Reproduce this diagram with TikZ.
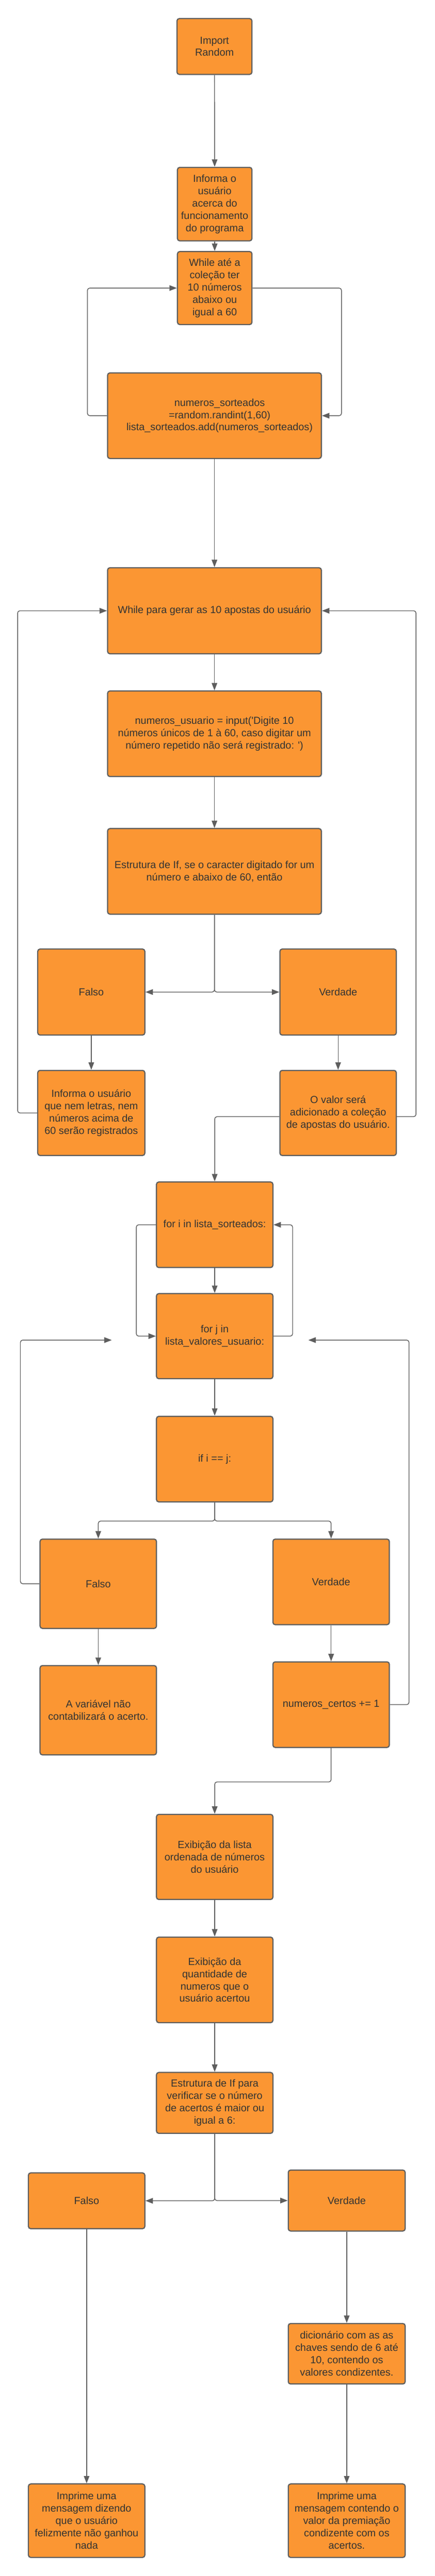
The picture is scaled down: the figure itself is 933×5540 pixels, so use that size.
\documentclass[tikz,border=0pt]{standalone}
\usepackage{fontspec}
\setmainfont{Liberation Sans}
\usetikzlibrary{arrows.meta}
\definecolor{boxfill}{HTML}{FB9633}
\definecolor{boxline}{HTML}{5E5E5E}
\definecolor{linec}{HTML}{5E5E5E}
\definecolor{txt}{HTML}{333333}
\tikzset{
  flowbox/.style={rectangle, rounded corners=5pt, draw=boxline, line width=2.5pt,
    fill=boxfill, text=txt, align=center, inner sep=0pt,
    font=\fontsize{22}{26.5}\selectfont},
  conn/.style={draw=linec, line width=1.6pt, rounded corners=5pt,
    -{Triangle[length=16pt,width=12pt]}},
}
\newcommand{\bx}[6]{%
  \pgfmathsetmacro{\bw}{#4-#2}\pgfmathsetmacro{\bh}{#5-#3}%
  \pgfmathsetmacro{\cx}{(#2+#4)/2}\pgfmathsetmacro{\cy}{(#3+#5)/2}%
  \node[flowbox, minimum width=\bw pt, minimum height=\bh pt] (#1) at (\cx,\cy) {#6};}
\begin{document}
\begin{tikzpicture}[x=1pt,y=-1pt]
\useasboundingbox (0,0) rectangle (933,5540);
\bx{imp}{380}{40}{541}{160}{Import\\Random}
\bx{inf}{381}{360}{541}{518}{Informa o\\usuário\\acerca do\\funcionamento\\do programa}
\bx{whl}{381}{541}{541}{698}{While até a\\coleção ter\\10 números\\abaixo ou\\igual a 60}
\bx{sor}{231}{802}{690}{986}{\hspace*{22pt}numeros\_sorteados\\\hspace*{22pt}=random.randint(1,60)\\\hspace*{22pt}lista\_sorteados.add(numeros\_sorteados)}
\bx{wpa}{231}{1221}{690}{1406}{While para gerar as 10 apostas do usuário}
\bx{usu}{231}{1486}{690}{1670}{numeros\_usuario = input(\textquotesingle Digite 10\\números únicos de 1 à 60, caso digitar um\\número repetido não será registrado: \textquotesingle)}
\bx{est}{231}{1782}{690}{1966}{Estrutura de If, se o caracter digitado for um\\número e abaixo de 60, então}
\bx{fal1}{81}{2041}{311}{2226}{Falso}
\bx{ver1}{601}{2041}{851}{2226}{Verdade}
\bx{inf2}{81}{2302}{311}{2485}{Informa o usuário\\que nem letras, nem\\números acima de\\60 serão registrados}
\bx{val}{601}{2302}{851}{2485}{O valor será\\adicionado a coleção\\de apostas do usuário.}
\bx{fori}{336}{2542}{586}{2726}{for i in lista\_sorteados:}
\bx{forj}{336}{2782}{586}{2965}{for j in\\lista\_valores\_usuario:}
\bx{ifij}{336}{3046}{586}{3230}{if i == j:}
\bx{fal2}{86}{3310}{336}{3502}{Falso}
\bx{ver2}{586}{3310}{836}{3494}{Verdade}
\bx{var}{86}{3582}{336}{3774}{A variável não\\contabilizará o acerto.}
\bx{cer}{586}{3574}{836}{3758}{numeros\_certos += 1}
\bx{exl}{336}{3902}{586}{4085}{Exibição da lista\\ordenada de números\\do usuário}
\bx{exq}{336}{4166}{586}{4350}{Exibição da\\quantidade de\\numeros que o\\usuário acertou}
\bx{es6}{336}{4457}{586}{4588}{Estrutura de If para\\verificar se o número\\de acertos é maior ou\\igual a 6:}
\bx{fal3}{61}{4673}{311}{4793}{Falso}
\bx{ver3}{619}{4667}{870}{4798}{Verdade}
\bx{dic}{619}{4997}{870}{5127}{dicionário com as as\\chaves sendo de 6 até\\10, contendo os\\valores condizentes.}
\bx{imp1}{61}{5342}{311}{5500}{Imprime uma\\mensagem dizendo\\que o usuário\\felizmente não ganhou\\nada}
\bx{imp2}{619}{5342}{870}{5500}{Imprime uma\\mensagem contendo o\\valor da premiação\\condizente com os\\acertos.}
\coordinate (lend) at (240,2882);
\coordinate (rend) at (662,2882);
% connectors
\draw[conn] (imp) -- (inf);
\draw[conn] (inf) -- (whl);
\draw[conn] (sor.west) -- ++(-42,0) |- (whl.west);
\draw[conn] (whl.east) -- ++(191,0) |- (sor.east);
\draw[conn] (sor) -- (wpa);
\draw[conn] (wpa) -- (usu);
\draw[conn] (usu) -- (est);
\draw[conn] (est.south) |- (fal1.east);
\draw[conn] (est.south) |- (ver1.west);
\draw[conn] (fal1) -- (inf2);
\draw[conn] (ver1) -- (val);
\draw[conn] (inf2.west) -- ++(-42,0) |- (wpa.west);
\draw[conn] ([yshift=-8pt]val.east) -- ++(41,0) |- (wpa.east);
\draw[conn] ([yshift=-8pt]val.west) -| (fori.north);
\draw[conn] (fori) -- (forj);
\draw[conn] (fori.west) -- ++(-42,0) |- (forj.west);
\draw[conn] (forj.east) -- ++(41,0) |- (fori.east);
\draw[conn] (forj) -- (ifij);
\draw[conn] (ifij.south) -- ++(0,40) -| (fal2.north);
\draw[conn] (ifij.south) -- ++(0,40) -| (ver2.north);
\draw[conn] (fal2.west) -- ++(-41,0) |- (lend);
\draw[conn] (cer.east) -- ++(41,0) |- (rend);
\draw[conn] (fal2) -- (var);
\draw[conn] (ver2) -- (cer);
\draw[conn] (cer.south) -- ++(0,73) -| (exl.north);
\draw[conn] (exl) -- (exq);
\draw[conn] (exq) -- (es6);
\draw[conn] (es6.south) |- (fal3.east);
\draw[conn] (es6.south) |- (ver3.west);
\draw[conn] (fal3) -- (imp1);
\draw[conn] (ver3) -- (dic);
\draw[conn] (dic) -- (imp2);
\end{tikzpicture}
\end{document}
